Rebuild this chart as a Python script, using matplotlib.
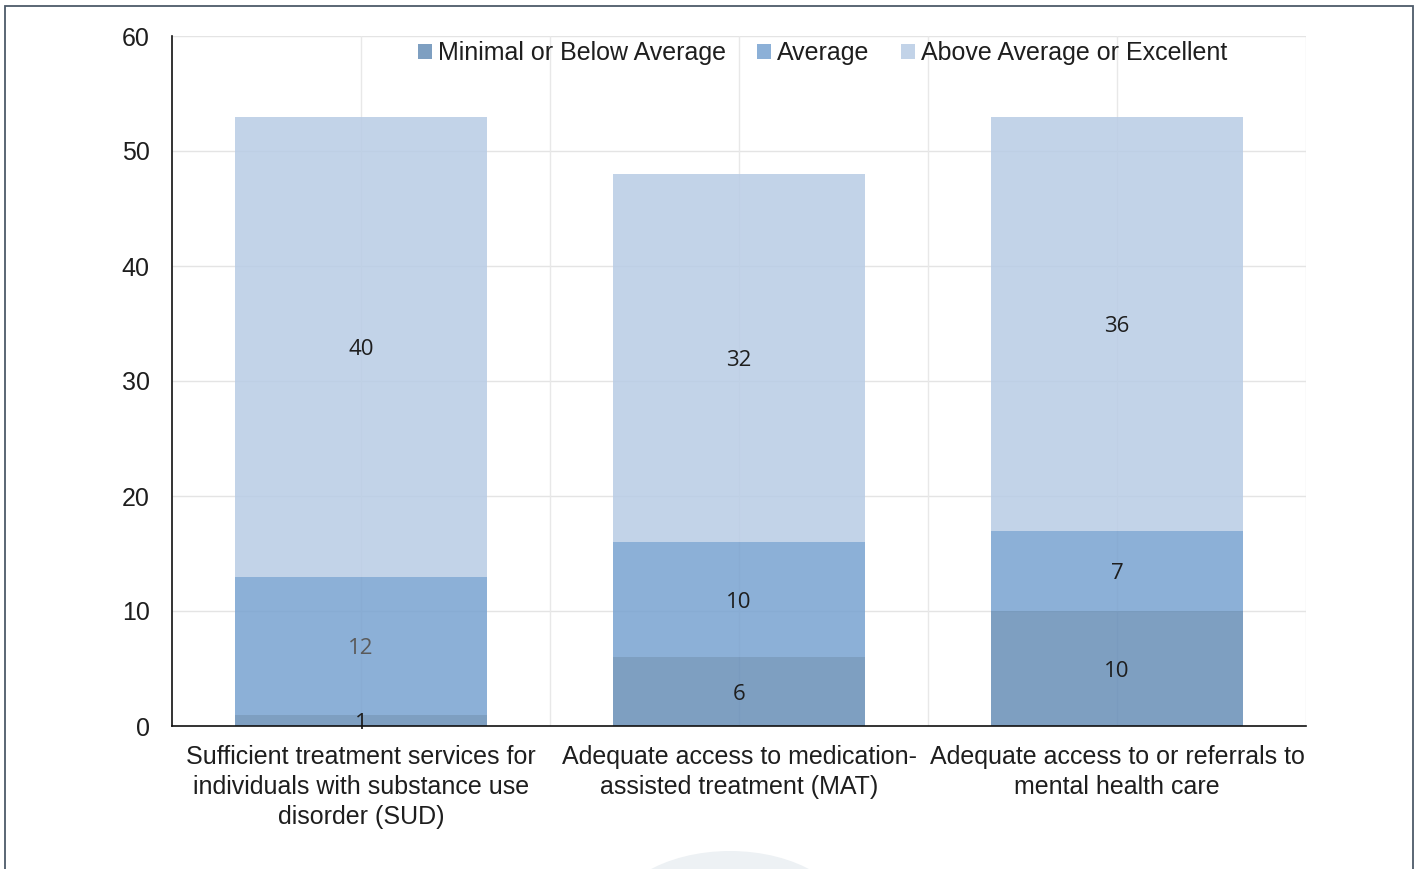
import matplotlib
matplotlib.use("Agg")
import matplotlib.pyplot as plt
from matplotlib.patches import Circle, Rectangle

categories = [
    "Sufficient treatment services for\nindividuals with substance use\ndisorder (SUD)",
    "Adequate access to medication-\nassisted treatment (MAT)",
    "Adequate access to or referrals to\nmental health care",
]
series_names = ["Minimal or Below Average", "Average", "Above Average or Excellent"]
minimal = [1, 6, 10]
average = [12, 10, 7]
above = [40, 32, 36]
y_ticks = [0, 10, 20, 30, 40, 50, 60]

# slightly translucent fills so the grid shows faintly through the bars
bar_alpha = 0.85
colors = ["#678eb7", "#78a2d0", "#b8cce5"]
label_colors = [["#1e1e1e", "#1e1e1e", "#1e1e1e"],
                ["#5a5a5a", "#1e1e1e", "#1e1e1e"],
                ["#1e1e1e", "#1e1e1e", "#1e1e1e"]]

W, H = 1418, 869
fig = plt.figure(figsize=(W / 100, H / 100), dpi=100)
fig.patch.set_facecolor("white")

# outer frame
fig.patches.append(Rectangle((5 / W, -0.05), (1413 - 5) / W, 1.05 - 6 / H,
                             transform=fig.transFigure, fill=False,
                             edgecolor="#4d5b69", linewidth=1.3, zorder=0))
# faint seal at the bottom
fig.patches.append(Circle((730 / W, 1 - 925 / H), 74 / H,
                          transform=fig.transFigure, facecolor="#edf1f4",
                          edgecolor="none", zorder=0))

ax = fig.add_axes([172 / W, 1 - 726 / H, (1306 - 172) / W, (726 - 36) / H])
ax.set_facecolor("none")

# grid: horizontal lines and vertical lines at centers and boundaries
for t in y_ticks[1:]:
    ax.axhline(t, color="#e4e4e4", linewidth=1, zorder=0)
for xv in [0, 0.5, 1, 1.5, 2, 2.5]:
    ax.axvline(xv, color="#e8e8e8", linewidth=1, zorder=0)

x = list(range(len(categories)))
width = 252 / 378
series = [minimal, average, above]
bottoms = [0, 0, 0]
for i, (vals, name, c) in enumerate(zip(series, series_names, colors)):
    ax.bar(x, vals, width, bottom=bottoms, color=c, alpha=bar_alpha,
           label=name, zorder=1, linewidth=0)
    for j, (b, v) in enumerate(zip(bottoms, vals)):
        ax.annotate(str(v), (x[j], b + v / 2), xytext=(0, -2),
                    textcoords="offset points", ha="center", va="center",
                    fontsize=16, family="Open Sans", color=label_colors[i][j],
                    zorder=4)
    bottoms = [b + v for b, v in zip(bottoms, vals)]

ax.set_xlim(-0.5, 2.5)
ax.set_ylim(0, 60)
ax.set_yticks(y_ticks)
ax.set_yticklabels([str(t) for t in y_ticks], family="Liberation Sans",
                   fontsize=18, color="#1e1e1e")
ax.set_xticks(x)
ax.set_xticklabels(categories, family="Liberation Sans", fontsize=18,
                   color="#1e1e1e", linespacing=1.3)
ax.tick_params(axis="both", length=0)
ax.tick_params(axis="y", pad=16)
ax.tick_params(axis="x", pad=14)

for s in ["top", "right"]:
    ax.spines[s].set_visible(False)
for s in ["left", "bottom"]:
    ax.spines[s].set_color("#111111")
    ax.spines[s].set_linewidth(1.2)
    ax.spines[s].set_zorder(5)

leg = ax.legend(loc="center left", bbox_to_anchor=((418 - 172) / 1134, (726 - 53) / 690),
                ncol=3, frameon=False, prop={"family": "Liberation Sans", "size": 18},
                handlelength=0.55, handleheight=0.55, handletextpad=0.25,
                columnspacing=1.25, borderaxespad=0, borderpad=0)
for t in leg.get_texts():
    t.set_color("#1e1e1e")

fig.savefig("out.png", dpi=100, facecolor="white")
